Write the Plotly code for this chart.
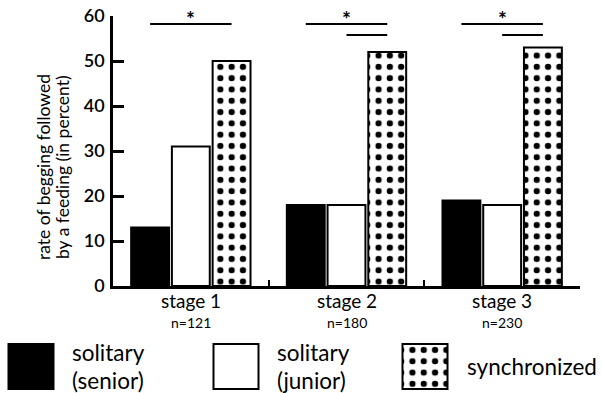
import plotly.graph_objects as go

# --- data -------------------------------------------------------------
stages = ["stage 1", "stage 2", "stage 3"]
sample_sizes = ["n=121", "n=180", "n=230"]
senior = [13, 18, 19]
junior = [31, 18, 18]
synchronized = [50, 52, 53]
series_names = ["solitary (senior)", "solitary (junior)", "synchronized"]
y_ticks = [0, 10, 20, 30, 40, 50, 60]

# --- layout constants (pixels in a 602 x 393 canvas) ------------------
W, H = 602, 393
PLOT_L, PLOT_R, PLOT_T, PLOT_B = 113, 580, 16, 286
FONT = "Lato"
BAR_LINE = dict(color="black", width=2)
DOTS = dict(shape=".", fgcolor="black", bgcolor="white", fgopacity=1,
            size=11.3, solidity=0.24)
BARGAP = 0.215

fills = [
    dict(marker=dict(color="black", line=BAR_LINE)),
    dict(marker=dict(color="white", line=BAR_LINE)),
    dict(marker=dict(color="white", line=BAR_LINE, pattern=DOTS)),
]
values = [senior, junior, synchronized]

fig = go.Figure()
for name, vals, style in zip(series_names, values, fills):
    fig.add_trace(go.Bar(x=stages, y=vals, name=name, showlegend=False,
                         xaxis="x", yaxis="y", **style))

# legend swatches drawn on a pixel-unit helper axis at the bottom
LEG_SWATCH_X = [31, 236, 425]   # swatch centres, px from left
LEG_SWATCH = 45                 # swatch side, px
LEG_BOTTOM = 4                  # px above canvas bottom
for i, (name, style) in enumerate(zip(series_names, fills)):
    fig.add_trace(go.Bar(x=[LEG_SWATCH_X[i]], y=[LEG_SWATCH], base=[LEG_BOTTOM],
                         width=[LEG_SWATCH], showlegend=False, hoverinfo="skip",
                         xaxis="x2", yaxis="y2", **style))

fig.update_layout(
    width=W, height=H,
    margin=dict(l=0, r=0, t=0, b=0, autoexpand=False),
    paper_bgcolor="white", plot_bgcolor="white",
    barmode="group", bargap=BARGAP, bargroupgap=0.07,
    font=dict(family=FONT, color="black"),
    xaxis=dict(
        domain=[PLOT_L / W, PLOT_R / W], range=[-0.5, 2.5], automargin=False,
        showline=True, linecolor="black", linewidth=2.5,
        ticks="inside", tickson="boundaries", ticklen=6, tickwidth=2,
        tickcolor="black", showticklabels=False, showgrid=False, zeroline=False,
    ),
    yaxis=dict(
        domain=[(H - PLOT_B) / H, (H - PLOT_T) / H], range=[0, 60], automargin=False,
        tickvals=y_ticks, showline=True, linecolor="black", linewidth=2.5,
        ticks="inside", ticklen=11, tickwidth=2.5, tickcolor="black",
        tickfont=dict(family=FONT, size=18, weight=600), ticklabelstandoff=2,
        showgrid=False, zeroline=False,
    ),
    xaxis2=dict(domain=[0, 1], range=[0, W], visible=False, anchor="y2",
                automargin=False),
    yaxis2=dict(domain=[0, 60 / H], range=[0, 60], visible=False, anchor="x2",
                automargin=False),
)

annotations = []
# y-axis title (two lines)
for txt, xpx in [("rate of begging followed", 43), ("by a feeding (in percent)", 62)]:
    annotations.append(dict(text=txt, textangle=-90, xref="paper", yref="paper",
                            x=xpx / W, y=(H - 167) / H, xanchor="center",
                            yanchor="middle", showarrow=False,
                            font=dict(family=FONT, size=17.5)))
# category labels and sample sizes
for i, (s, n) in enumerate(zip(stages, sample_sizes)):
    annotations.append(dict(text=s, x=i, xref="x", yref="paper", y=(H - 300) / H,
                            xanchor="center", yanchor="middle", showarrow=False,
                            font=dict(family=FONT, size=19)))
    annotations.append(dict(text=n, x=i, xref="x", yref="paper", y=(H - 322) / H,
                            xanchor="center", yanchor="middle", showarrow=False,
                            font=dict(family=FONT, size=14)))

# significance brackets: long line senior-synchronized, short line junior-synchronized
slot = (1 - BARGAP) / 3
shapes = []
for i in range(len(stages)):
    shapes.append(dict(type="line", xref="x", yref="y", x0=i - slot, x1=i + slot,
                       y0=58.2, y1=58.2, line=dict(color="black", width=2)))
    if i > 0:
        shapes.append(dict(type="line", xref="x", yref="y", x0=i, x1=i + slot,
                           y0=55.8, y1=55.8, line=dict(color="black", width=2)))
    annotations.append(dict(text="*", x=i, xref="x", yref="y", y=58.2,
                            yanchor="bottom", showarrow=False, yshift=-9,
                            font=dict(family=FONT, size=21, weight=700)))

# legend text
LEG_TEXT = [
    (70, ["solitary", "(senior)"]),
    (275, ["solitary", "(junior)"]),
    (465, ["synchronized"]),
]
for xpx, lines in LEG_TEXT:
    ys = [352, 380] if len(lines) == 2 else [366]
    for line, ypx in zip(lines, ys):
        annotations.append(dict(text=line, xref="paper", yref="paper",
                                x=xpx / W, y=(H - ypx) / H, xanchor="left",
                                yanchor="middle", showarrow=False,
                                font=dict(family=FONT, size=22.5)))

fig.update_layout(annotations=annotations, shapes=shapes)
fig.write_html("out.html")
